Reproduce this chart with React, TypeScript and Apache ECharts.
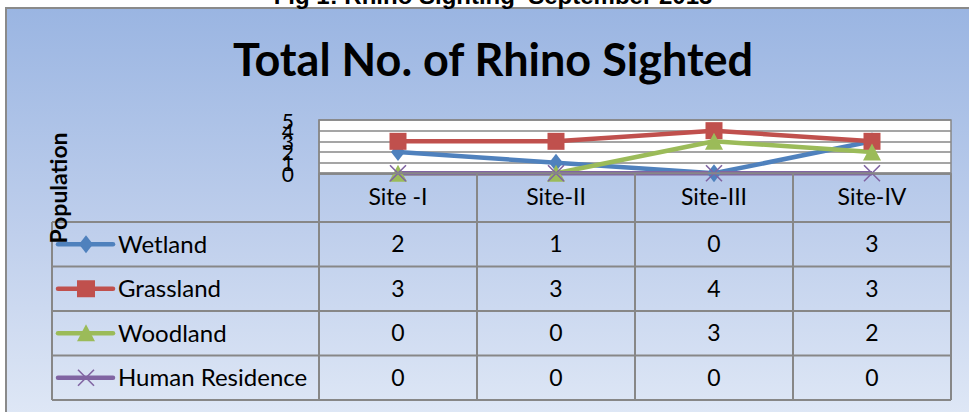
import React, { useEffect, useRef } from "react";
import * as echarts from "echarts";

const caption = "Fig 1: Rhino Sighting  September 2013";
const chartTitle = "Total No. of Rhino Sighted";
const yAxisTitle = "Population";
const sites = ["Site -I", "Site-II", "Site-III", "Site-IV"];
const seriesNames = ["Wetland", "Grassland", "Woodland", "Human Residence"];
const wetland = [2, 1, 0, 3];
const grassland = [3, 3, 4, 3];
const woodland = [0, 0, 3, 2];
const humanResidence = [0, 0, 0, 0];
const yTicks = [0, 1, 2, 3, 4, 5];
const yMin = 0;
const yMax = 5;
const yStep = 1;

const seriesValues = [wetland, grassland, woodland, humanResidence];
const colors = ["#4F81BD", "#C0504D", "#9BBB59", "#8064A2"];
const symbols = ["diamond", "rect", "triangle", "path://M0,0L10,10M10,0L0,10"];
const symbolSizes: any[] = [[14, 18], [17, 17], [18, 17], [16, 16]];

const FONT = "Lato, 'Open Sans', sans-serif";
const GRID = "#878787";

export default function App() {
  const ref = useRef<HTMLDivElement>(null);
  useEffect(() => {
    document.body.style.margin = "0";
    const el = ref.current!;
    const chart = echarts.init(el, null, { renderer: "svg" });
    const series = seriesNames.map((name, i) => ({
      name,
      type: "line",
      data: seriesValues[i],
      symbol: symbols[i],
      symbolSize: symbolSizes[i],
      showAllSymbol: true,
      clip: false,
      silent: true,
      lineStyle: { color: colors[i], width: 4.5 },
      itemStyle:
        i === 3
          ? { color: "rgba(0,0,0,0)", borderColor: colors[i], borderWidth: 1.6 }
          : { color: colors[i], borderWidth: 0 },
      emphasis: { disabled: true },
      z: 3,
    }));
    chart.setOption({
      animation: false,
      grid: {
        left: 319,
        right: 18,
        top: 120,
        bottom: 412 - 173.3,
        show: true,
        backgroundColor: "#ffffff",
        borderColor: GRID,
        borderWidth: 1.5,
        z: 1,
      },
      xAxis: {
        type: "category",
        data: sites,
        boundaryGap: true,
        axisTick: { show: false },
        axisLine: { show: true, lineStyle: { color: GRID, width: 1.5 } },
        axisLabel: { fontFamily: FONT, fontSize: 23, color: "#000", margin: 11 },
        splitLine: { show: false },
        z: 1,
      },
      yAxis: {
        type: "value",
        min: yMin,
        max: yMax,
        interval: yStep,
        axisLine: { show: true, lineStyle: { color: GRID, width: 1.5 } },
        axisTick: { show: false },
        axisLabel: { show: false },
        splitLine: { show: true, lineStyle: { color: GRID, width: 1.5 } },
        z: 1,
      },
      series,
    });

    const cx = sites.map((_, i) => chart.convertToPixel({ xAxisIndex: 0 }, i) as number);
    const band = cx.length > 1 ? cx[1] - cx[0] : 158;
    const xl = cx[0] - band / 2;
    const xr = cx[cx.length - 1] + band / 2;
    const yZero = chart.convertToPixel({ yAxisIndex: 0 }, 0) as number;
    const headerBottom = 222;
    const rowH = 44.5;
    const legendLeft = 52;
    const tableBottom = headerBottom + rowH * seriesNames.length;

    const g: any[] = [];
    g.push({
      type: "rect",
      z: -10,
      silent: true,
      shape: { x: 6, y: 8, width: 1000, height: 450 },
      style: {
        fill: new echarts.graphic.LinearGradient(0, 0, 0, 1, [
          { offset: 0, color: "#9AB5E2" },
          { offset: 0.5, color: "#BFCFEC" },
          { offset: 1, color: "#E6EDF8" },
        ]),
        stroke: "#8A8A8A",
        lineWidth: 2,
      },
    });
    g.push({
      type: "text",
      z: 20,
      x: 493,
      y: 7,
      style: {
        text: caption,
        font: "bold 24px 'Liberation Sans', Arial, sans-serif",
        fill: "#000",
        textAlign: "center",
        textVerticalAlign: "bottom",
      },
    });
    g.push({
      type: "text",
      z: 20,
      x: 493,
      y: 59,
      style: {
        text: chartTitle,
        font: `bold 45px ${FONT}`,
        fill: "#000",
        textAlign: "center",
        textVerticalAlign: "middle",
      },
    });
    // y tick labels (drawn so that crowded labels all stay visible)
    yTicks.forEach((t) => {
      const y = chart.convertToPixel({ yAxisIndex: 0 }, t) as number;
      g.push({
        type: "text",
        z: 20,
        x: 294,
        y,
        style: {
          text: String(t),
          font: `21px ${FONT}`,
          fill: "#000",
          textAlign: "right",
          textVerticalAlign: "middle",
        },
      });
    });
    const line = (x1: number, y1: number, x2: number, y2: number) => ({
      type: "line",
      z: 10,
      silent: true,
      shape: { x1, y1, x2, y2 },
      style: { stroke: GRID, lineWidth: 2 },
    });
    g.push(line(xl, yZero, xr, yZero));
    for (let r = 0; r <= seriesNames.length; r++) {
      const y = headerBottom + r * rowH;
      g.push(line(legendLeft, y, xr, y));
    }
    for (let c = 0; c <= sites.length; c++) {
      const x = xl + c * band;
      g.push(line(x, yZero, x, tableBottom));
    }
    g.push(line(legendLeft, headerBottom, legendLeft, tableBottom));

    seriesNames.forEach((name, r) => {
      const cy = headerBottom + r * rowH + rowH / 2;
      const col = colors[r];
      const mx = 86;
      g.push({
        type: "line",
        z: 11,
        shape: { x1: 58, y1: cy, x2: 113, y2: cy },
        style: { stroke: col, lineWidth: 4.5, lineCap: "round" },
      });
      if (r === 0) {
        g.push({
          type: "polygon",
          z: 12,
          shape: { points: [[mx, cy - 9], [mx + 7, cy], [mx, cy + 9], [mx - 7, cy]] },
          style: { fill: col },
        });
      } else if (r === 1) {
        g.push({
          type: "rect",
          z: 12,
          shape: { x: mx - 9, y: cy - 8.5, width: 18, height: 17 },
          style: { fill: col },
        });
      } else if (r === 2) {
        g.push({
          type: "polygon",
          z: 12,
          shape: { points: [[mx, cy - 9], [mx + 9, cy + 8], [mx - 9, cy + 8]] },
          style: { fill: col },
        });
      } else {
        g.push({
          type: "line",
          z: 12,
          shape: { x1: mx - 8, y1: cy - 8, x2: mx + 8, y2: cy + 8 },
          style: { stroke: col, lineWidth: 1.6 },
        });
        g.push({
          type: "line",
          z: 12,
          shape: { x1: mx + 8, y1: cy - 8, x2: mx - 8, y2: cy + 8 },
          style: { stroke: col, lineWidth: 1.6 },
        });
      }
      g.push({
        type: "text",
        z: 12,
        x: 118,
        y: cy - 1,
        style: {
          text: name,
          font: `24px ${FONT}`,
          fill: "#000",
          textAlign: "left",
          textVerticalAlign: "middle",
        },
      });
      seriesValues[r].forEach((v, c) => {
        g.push({
          type: "text",
          z: 12,
          x: cx[c],
          y: cy - 1,
          style: {
            text: String(v),
            font: `23px ${FONT}`,
            fill: "#000",
            textAlign: "center",
            textVerticalAlign: "middle",
          },
        });
      });
    });

    g.push({
      type: "text",
      z: 30,
      x: 58,
      y: 188,
      rotation: Math.PI / 2,
      style: {
        text: yAxisTitle,
        font: `bold 23px ${FONT}`,
        fill: "#000",
        textAlign: "center",
        textVerticalAlign: "middle",
      },
    });

    chart.setOption({ graphic: { elements: g } });
    return () => chart.dispose();
  }, []);
  return (
    <div
      ref={ref}
      style={{ position: "fixed", left: 0, top: 0, width: 969, height: 412, background: "#fff" }}
    />
  );
}
